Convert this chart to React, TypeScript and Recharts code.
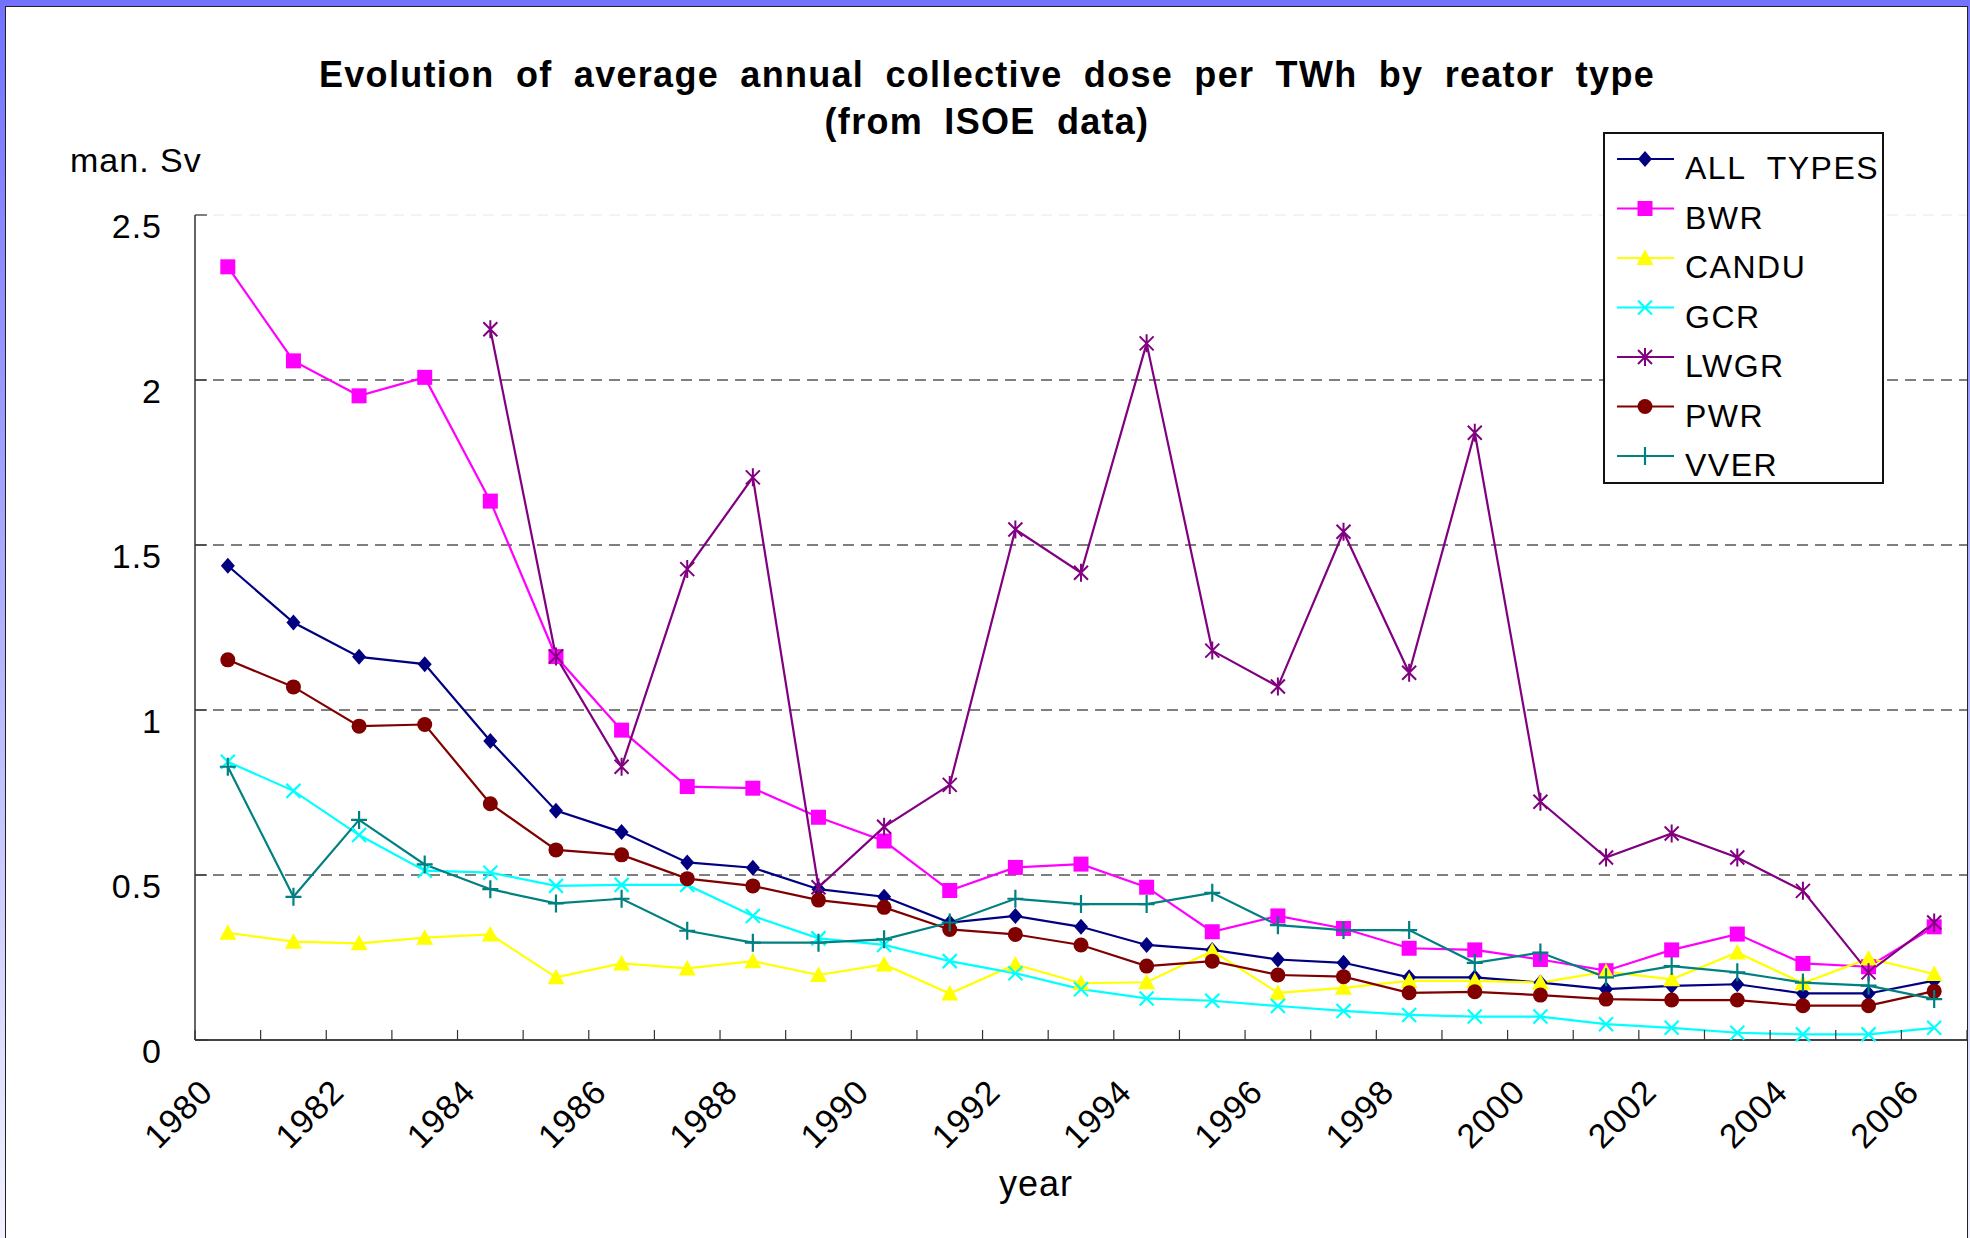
import React from "react";
import { LineChart, Line, XAxis, YAxis, ReferenceLine, Legend } from "recharts";

const years = [
  1980, 1981, 1982, 1983, 1984, 1985, 1986, 1987, 1988, 1989, 1990, 1991, 1992,
  1993, 1994, 1995, 1996, 1997, 1998, 1999, 2000, 2001, 2002, 2003, 2004, 2005, 2006,
];

const allTypes = [
  1.437, 1.265, 1.161, 1.139, 0.906, 0.695, 0.63, 0.538, 0.522, 0.457, 0.434, 0.356, 0.376,
  0.343, 0.288, 0.273, 0.244, 0.234, 0.19, 0.19, 0.174, 0.154, 0.164, 0.169, 0.141, 0.141, 0.18,
];
const bwr = [
  2.343, 2.058, 1.952, 2.008, 1.633, 1.162, 0.939, 0.768, 0.763, 0.675, 0.603, 0.453, 0.523,
  0.533, 0.463, 0.328, 0.376, 0.338, 0.278, 0.273, 0.244, 0.21, 0.273, 0.321, 0.232, 0.222, 0.343,
];
const candu = [
  0.325, 0.298, 0.293, 0.31, 0.32, 0.19, 0.232, 0.217, 0.239, 0.197, 0.229, 0.141, 0.229,
  0.172, 0.175, 0.27, 0.143, 0.158, 0.179, 0.179, 0.174, 0.207, 0.184, 0.265, 0.172, 0.247, 0.2,
];
const gcr = [
  0.843, 0.755, 0.621, 0.513, 0.507, 0.467, 0.47, 0.47, 0.376, 0.308, 0.288, 0.239, 0.202,
  0.154, 0.126, 0.119, 0.103, 0.088, 0.076, 0.071, 0.071, 0.048, 0.037, 0.022, 0.017, 0.017, 0.037,
];
const lwgr = [
  null, null, null, null, 2.154, 1.162, 0.828, 1.427, 1.705, 0.463, 0.646, 0.773, 1.547,
  1.416, 2.111, 1.18, 1.071, 1.54, 1.113, 1.84, 0.722, 0.553, 0.626, 0.553, 0.452, 0.205, 0.356,
];
const pwr = [
  1.152, 1.07, 0.951, 0.956, 0.716, 0.576, 0.561, 0.489, 0.467, 0.424, 0.402, 0.335, 0.32,
  0.288, 0.224, 0.239, 0.197, 0.192, 0.143, 0.146, 0.136, 0.124, 0.121, 0.121, 0.104, 0.104, 0.148,
];
const vver = [
  0.828, 0.434, 0.667, 0.532, 0.457, 0.414, 0.428, 0.331, 0.295, 0.295, 0.305, 0.356, 0.428,
  0.412, 0.412, 0.446, 0.348, 0.333, 0.333, 0.234, 0.265, 0.19, 0.224, 0.205, 0.174, 0.165, 0.124,
];

const yTicks = [0, 0.5, 1, 1.5, 2, 2.5];
const gridValues = [0.5, 1, 1.5, 2];

type MarkerKind = "diamond" | "square" | "triangle" | "cross" | "star" | "circle" | "plus";

const SERIES: { key: string; name: string; color: string; marker: MarkerKind; values: (number | null)[] }[] = [
  { key: "all", name: "ALL TYPES", color: "#000080", marker: "diamond", values: allTypes },
  { key: "bwr", name: "BWR", color: "#FF00FF", marker: "square", values: bwr },
  { key: "candu", name: "CANDU", color: "#FFFF00", marker: "triangle", values: candu },
  { key: "gcr", name: "GCR", color: "#00FFFF", marker: "cross", values: gcr },
  { key: "lwgr", name: "LWGR", color: "#800080", marker: "star", values: lwgr },
  { key: "pwr", name: "PWR", color: "#800000", marker: "circle", values: pwr },
  { key: "vver", name: "VVER", color: "#008080", marker: "plus", values: vver },
];

const data = years.map((year, i) => {
  const row: Record<string, string | number | null> = { year: String(year) };
  SERIES.forEach((s) => {
    row[s.key] = s.values[i];
  });
  return row;
});

const W = 1970;
const H = 1238;
const PLOT_LEFT = 195;
const PLOT_RIGHT = 1967;
const PLOT_TOP = 215;
const PLOT_BOTTOM = 1040;
const CAT_W = (PLOT_RIGHT - PLOT_LEFT) / years.length;
const FONT = "'Liberation Sans', Arial, sans-serif";

function Marker({ kind, x, y, color }: { kind: MarkerKind; x: number; y: number; color: string }) {
  switch (kind) {
    case "diamond":
      return <polygon points={`${x},${y - 8} ${x + 7},${y} ${x},${y + 8} ${x - 7},${y}`} fill={color} />;
    case "square":
      return <rect x={x - 7.5} y={y - 7.5} width={15} height={15} fill={color} />;
    case "triangle":
      return <polygon points={`${x},${y - 8.5} ${x + 8.5},${y + 7} ${x - 8.5},${y + 7}`} fill={color} />;
    case "cross":
      return (
        <path d={`M${x - 7},${y - 7}L${x + 7},${y + 7}M${x - 7},${y + 7}L${x + 7},${y - 7}`} stroke={color} strokeWidth={2.2} />
      );
    case "star":
      return (
        <path
          d={`M${x - 7},${y - 7}L${x + 7},${y + 7}M${x - 7},${y + 7}L${x + 7},${y - 7}M${x},${y - 9}L${x},${y + 9}`}
          stroke={color}
          strokeWidth={2}
        />
      );
    case "circle":
      return <circle cx={x} cy={y} r={7.5} fill={color} />;
    default:
      return <path d={`M${x - 8},${y}L${x + 8},${y}M${x},${y - 9}L${x},${y + 9}`} stroke={color} strokeWidth={2.2} />;
  }
}

function YearTick(props: any) {
  const { x, y, payload, index } = props;
  const half = CAT_W / 2;
  const tx = x - 13;
  const ty = y + 54;
  return (
    <g>
      <line x1={x - half} x2={x - half} y1={y} y2={y - 10} stroke="#333" strokeWidth={1.2} />
      {index === years.length - 1 && (
        <line x1={x + half} x2={x + half} y1={y} y2={y - 10} stroke="#333" strokeWidth={1.2} />
      )}
      {index % 2 === 0 && (
        <text
          x={tx}
          y={ty}
          transform={`rotate(-45 ${tx} ${ty})`}
          textAnchor="end"
          fontSize={34}
          letterSpacing={1}
          fontFamily={FONT}
          fill="#000"
        >
          {payload.value}
        </text>
      )}
    </g>
  );
}

function DoseTick(props: any) {
  const { x, y, payload } = props;
  return (
    <g>
      <line x1={x} x2={x + 12} y1={y} y2={y} stroke="#333" strokeWidth={1.2} />
      <text x={x - 33} y={y + 23} textAnchor="end" fontSize={34} letterSpacing={1} fontFamily={FONT} fill="#000">
        {String(payload.value)}
      </text>
    </g>
  );
}

function LegendBox() {
  return (
    <div
      style={{
        width: 281,
        height: 352,
        boxSizing: "border-box",
        border: "2px solid #111",
        background: "#fff",
      }}
    >
      <svg width={277} height={348} style={{ display: "block" }}>
        {SERIES.map((s, i) => {
          const cy = 25 + i * 49.5;
          return (
            <g key={s.key}>
              <line x1={12} x2={69} y1={cy} y2={cy} stroke={s.color} strokeWidth={2.2} />
              <Marker kind={s.marker} x={40} y={cy} color={s.color} />
              <text x={80} y={cy + 20} fontSize={32} letterSpacing={1.5} fontFamily={FONT} fill="#000">
                {s.name === "ALL TYPES" ? "ALL\u00a0 TYPES" : s.name}
              </text>
            </g>
          );
        })}
      </svg>
    </div>
  );
}

export default function App() {
  return (
    <div
      style={{
        position: "absolute",
        left: 0,
        top: 0,
        width: W,
        height: H,
        overflow: "hidden",
        background: "linear-gradient(180deg, #7272ff 0%, #aaaaff 45%, #f2f2ff 100%)",
      }}
    >
      <div
        style={{
          position: "absolute",
          left: 5,
          top: 6,
          width: 1963,
          height: 1240,
          boxSizing: "border-box",
          border: "1px solid #222",
          background: "#fff",
        }}
      />
      <div style={{ position: "absolute", left: 0, top: 0 }}>
        <LineChart
          width={W}
          height={H}
          data={data}
          margin={{ top: PLOT_TOP, right: W - PLOT_RIGHT, bottom: 0, left: 0 }}
        >
          <XAxis
            dataKey="year"
            height={H - PLOT_BOTTOM}
            padding={{ left: CAT_W / 2, right: CAT_W / 2 }}
            interval={0}
            tickSize={0}
            tickMargin={0}
            tickLine={false}
            axisLine={{ stroke: "#444", strokeWidth: 2 }}
            tick={<YearTick />}
          />
          <YAxis
            width={PLOT_LEFT}
            domain={[0, 2.5]}
            ticks={yTicks}
            interval={0}
            tickSize={0}
            tickMargin={0}
            tickLine={false}
            axisLine={{ stroke: "#333", strokeWidth: 1.5 }}
            tick={<DoseTick />}
          />
          {gridValues.map((v) => (
            <ReferenceLine key={v} y={v} stroke="#555" strokeWidth={1.3} strokeDasharray="11 7" />
          ))}
          <ReferenceLine y={2.5} stroke="#e8e8e8" strokeWidth={1} strokeDasharray="11 7" />
          {SERIES.map((s) => (
            <Line
              key={s.key}
              type="linear"
              dataKey={s.key}
              name={s.name}
              stroke={s.color}
              strokeWidth={2.2}
              isAnimationActive={false}
              dot={(p: any) => {
                const k = `${s.key}-${p.index}`;
                if (p.cy == null || p.value == null || Number.isNaN(p.cy)) return <g key={k} />;
                return (
                  <g key={k}>
                    <Marker kind={s.marker} x={p.cx} y={p.cy} color={s.color} />
                  </g>
                );
              }}
              activeDot={false}
            />
          ))}
          <Legend
            layout="horizontal"
            verticalAlign="middle"
            align="center"
            wrapperStyle={{ left: 1603, top: 132, width: 281, height: 352 }}
            content={() => <LegendBox />}
          />
        </LineChart>
      </div>
      <svg
        width={W}
        height={H}
        style={{ position: "absolute", left: 0, top: 0, pointerEvents: "none" }}
      >
        <text
          x={987}
          y={87}
          textAnchor="middle"
          fontSize={36}
          fontWeight="bold"
          letterSpacing={1.3}
          wordSpacing={10}
          fontFamily={FONT}
          fill="#000"
        >
          Evolution of average annual collective dose per TWh by reator type
        </text>
        <text
          x={987}
          y={134}
          textAnchor="middle"
          fontSize={36}
          fontWeight="bold"
          letterSpacing={1.3}
          wordSpacing={10}
          fontFamily={FONT}
          fill="#000"
        >
          (from ISOE data)
        </text>
        <text x={70} y={172} fontSize={34} letterSpacing={1} fontFamily={FONT} fill="#000">
          man. Sv
        </text>
        <text x={1036} y={1196} textAnchor="middle" fontSize={36} letterSpacing={1} fontFamily={FONT} fill="#000">
          year
        </text>
      </svg>
    </div>
  );
}
